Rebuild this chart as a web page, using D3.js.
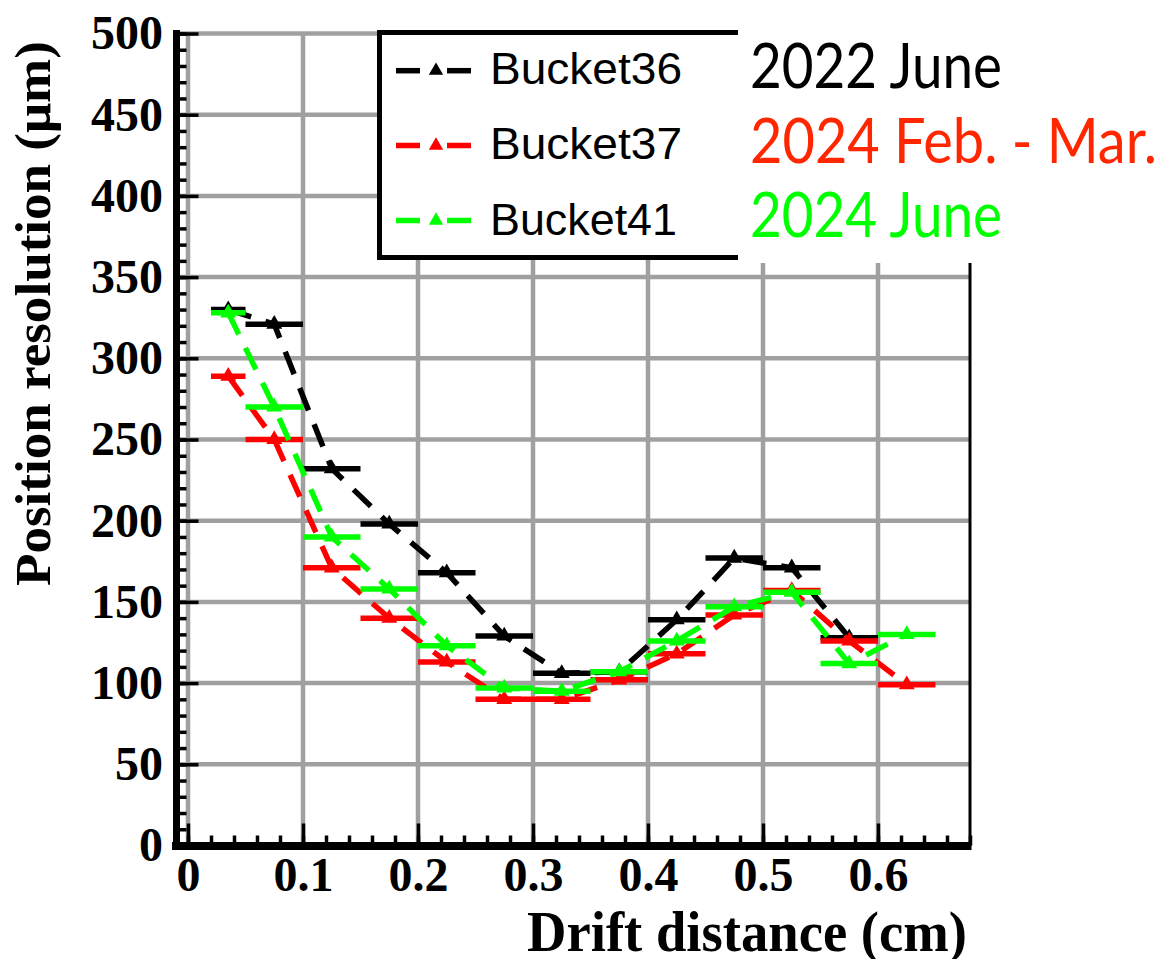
<!DOCTYPE html>
<html>
<head>
<meta charset="utf-8">
<script src="https://cdn.jsdelivr.net/npm/d3@7"></script>
<style>
  html, body { margin: 0; padding: 0; background: #fff; }
  svg { display: block; }
</style>
</head>
<body>
<svg id="chart" width="1164" height="959"></svg>
<script>
// ---------------- data ----------------
const binLow    = [0.02, 0.05, 0.10, 0.15, 0.20, 0.25, 0.30, 0.35, 0.40, 0.45, 0.50, 0.55, 0.60];
const binHigh   = [0.05, 0.10, 0.15, 0.20, 0.25, 0.30, 0.35, 0.40, 0.45, 0.50, 0.55, 0.60, 0.65];
const binCenter = [0.035, 0.075, 0.125, 0.175, 0.225, 0.275, 0.325, 0.375, 0.425, 0.475, 0.525, 0.575, 0.625];

const bucket36 = [330, 321, 232, 198, 168, 129, 106, 107, 139, 177, 171, 128, null];
const bucket37 = [289, 250, 171, 140, 113, 90, 90, 102, 118, 142, 157, 126, 99];
const bucket41 = [328, 270, 190, 158, 123, 97, 95, 107, 126, 147, 156, 112, 130];

const seriesNames  = ["Bucket36", "Bucket37", "Bucket41"];
const seriesColors = ["#000000", "#ff0000", "#00ff00"];
const periodLabels = ["2022 June", "2024 Feb. - Mar.", "2024 June"];
const periodColors = ["#000000", "#ff2600", "#00ff00"];

const xMajorTicks = [0, 0.1, 0.2, 0.3, 0.4, 0.5, 0.6];
const xMinorTicks = d3.range(0, 0.681, 0.02);
const yMajorTicks = [0, 50, 100, 150, 200, 250, 300, 350, 400, 450, 500];
const yMinorTicks = d3.range(0, 501, 10);

// ---------------- layout ----------------
const svg = d3.select("#chart");
const x = d3.scaleLinear().domain([-0.01, 0.68]).range([176.5, 970]);
const y = d3.scaleLinear().domain([0, 500]).range([845.5, 33.5]);

const serif = "'Liberation Serif', 'Times New Roman', serif";
const sans  = "'Liberation Sans', Arial, sans-serif";

svg.append("rect").attr("width", 1164).attr("height", 959).attr("fill", "#fff");

// grid
const grid = svg.append("g").attr("stroke", "#a0a0a0").attr("stroke-width", 4.5);
grid.selectAll("line.v").data(xMajorTicks).enter().append("line")
  .attr("x1", d => x(d)).attr("x2", d => x(d))
  .attr("y1", y(0)).attr("y2", y(500));
grid.selectAll("line.h").data(yMajorTicks.filter(d => d > 0)).enter().append("line")
  .attr("x1", 180).attr("x2", x(0.68))
  .attr("y1", d => y(d)).attr("y2", d => y(d));

// right frame
svg.append("line").attr("x1", x(0.68)).attr("x2", x(0.68))
  .attr("y1", y(500)).attr("y2", y(0)).attr("stroke", "#000").attr("stroke-width", 3);

// y axis ticks & labels
const yMinorAxis = d3.axisLeft(y).tickValues(yMinorTicks).tickSizeInner(-10).tickSizeOuter(0).tickFormat("");
const yMajorAxis = d3.axisLeft(y).tickValues(yMajorTicks).tickSizeInner(-22).tickSizeOuter(0).tickPadding(13.5).tickFormat(d3.format("d"));
const gyMin = svg.append("g").attr("transform", `translate(${x(-0.01)},0)`).call(yMinorAxis);
const gyMaj = svg.append("g").attr("transform", `translate(${x(-0.01)},0)`).call(yMajorAxis);
[gyMin, gyMaj].forEach(g => { g.select(".domain").remove(); g.selectAll(".tick line").attr("stroke", "#000").attr("stroke-width", 3.5); });
gyMaj.selectAll("text").attr("font-family", serif).attr("font-size", 48).attr("font-weight", "bold").attr("fill", "#000");

// x axis ticks & labels
const xMinorAxis = d3.axisBottom(x).tickValues(xMinorTicks).tickSizeInner(-10).tickSizeOuter(0).tickFormat("");
const xMajorAxis = d3.axisBottom(x).tickValues(xMajorTicks).tickSizeInner(-22).tickSizeOuter(0).tickPadding(11.5).tickFormat(d => d === 0 ? "0" : d3.format(".1f")(d));
const gxMin = svg.append("g").attr("transform", `translate(0,${y(0)})`).call(xMinorAxis);
const gxMaj = svg.append("g").attr("transform", `translate(0,${y(0)})`).call(xMajorAxis);
[gxMin, gxMaj].forEach(g => { g.select(".domain").remove(); g.selectAll(".tick line").attr("stroke", "#000").attr("stroke-width", 3.5); });
gxMaj.selectAll("text").attr("font-family", serif).attr("font-size", 48).attr("font-weight", "bold").attr("fill", "#000");

// thick axis lines
svg.append("line").attr("x1", x(-0.01)).attr("x2", x(-0.01)).attr("y1", 30).attr("y2", 850)
  .attr("stroke", "#000").attr("stroke-width", 7);
svg.append("line").attr("x1", 172).attr("x2", x(0.68) + 1.5).attr("y1", 846).attr("y2", 846)
  .attr("stroke", "#000").attr("stroke-width", 8);

// axis titles
svg.append("text")
  .attr("transform", "translate(50,313.5) rotate(-90)")
  .attr("text-anchor", "middle")
  .attr("font-family", serif).attr("font-weight", "bold").attr("font-size", 50)
  .attr("textLength", 545).attr("lengthAdjust", "spacingAndGlyphs")
  .text("Position resolution (\u03bcm)");
svg.append("text")
  .attr("x", 967).attr("y", 951)
  .attr("text-anchor", "end")
  .attr("font-family", serif).attr("font-weight", "bold").attr("font-size", 56)
  .attr("textLength", 440).attr("lengthAdjust", "spacingAndGlyphs")
  .text("Drift distance (cm)");

// data series
const allSeries = [bucket36, bucket37, bucket41];
const tri = d3.symbol().type(d3.symbolTriangle).size(110);
allSeries.forEach((vals, si) => {
  const col = seriesColors[si];
  const pts = vals.map((v, i) => ({ v, lo: binLow[i], hi: binHigh[i], c: binCenter[i] })).filter(p => p.v != null);
  const g = svg.append("g");
  g.append("path")
    .attr("d", d3.line().x(p => x(p.c)).y(p => y(p.v))(pts))
    .attr("fill", "none").attr("stroke", col).attr("stroke-width", 5.5)
    .attr("stroke-dasharray", "24,15");
  g.selectAll("line.err").data(pts).enter().append("line")
    .attr("x1", p => x(p.lo)).attr("x2", p => x(p.hi))
    .attr("y1", p => y(p.v)).attr("y2", p => y(p.v))
    .attr("stroke", col).attr("stroke-width", 5.5);
  g.selectAll("path.mk").data(pts).enter().append("path")
    .attr("d", tri)
    .attr("transform", p => `translate(${x(p.c)},${y(p.v)})`)
    .attr("fill", col);
});

// legend
svg.append("rect").attr("x", 379.5).attr("y", 32.5).attr("width", 420).attr("height", 225)
  .attr("fill", "#fff").attr("stroke", "#000").attr("stroke-width", 5);
const legY = [70.7, 145.5, 220.5];
const legBase = [84, 159, 235];
const legLen = [192, 192, 187];
const legTri = d3.symbol().type(d3.symbolTriangle).size(90);
seriesNames.forEach((name, i) => {
  const col = seriesColors[i];
  svg.append("line").attr("x1", 396).attr("x2", 420).attr("y1", legY[i]).attr("y2", legY[i]).attr("stroke", col).attr("stroke-width", 5.5);
  svg.append("line").attr("x1", 447).attr("x2", 471).attr("y1", legY[i]).attr("y2", legY[i]).attr("stroke", col).attr("stroke-width", 5.5);
  svg.append("path").attr("d", legTri).attr("transform", `translate(436,${legY[i]})`).attr("fill", col);
  svg.append("text").attr("x", 490).attr("y", legBase[i])
    .attr("font-family", sans).attr("font-size", 44).attr("fill", "#000")
    .attr("textLength", legLen[i]).attr("lengthAdjust", "spacingAndGlyphs")
    .text(name);
});

// white annotation box with period labels
svg.append("rect").attr("x", 738).attr("y", 26).attr("width", 426).attr("height", 237).attr("fill", "#fff");
const perBase = [88.3, 163.3, 236.7];
const perLen = [252, 407, 252];
periodLabels.forEach((t, i) => {
  svg.append("text").attr("x", 750).attr("y", perBase[i])
    .attr("font-family", "Lato, 'Open Sans', sans-serif").attr("font-size", 62)
    .attr("fill", periodColors[i])
    .attr("textLength", perLen[i]).attr("lengthAdjust", "spacingAndGlyphs")
    .text(t);
});
</script>
</body>
</html>
